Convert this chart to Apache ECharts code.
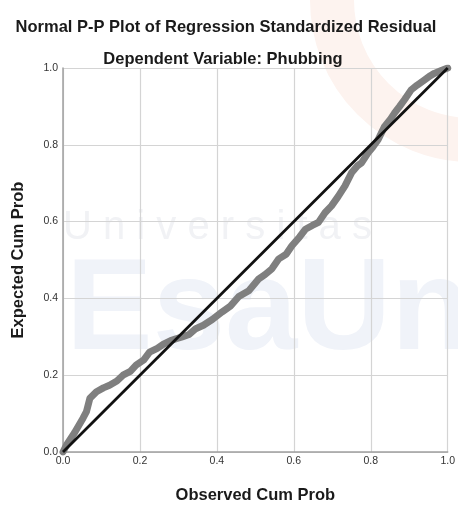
<!DOCTYPE html>
<html>
<head>
<meta charset="utf-8">
<script src="https://cdn.jsdelivr.net/npm/echarts@6/dist/echarts.min.js"></script>
<style>
html,body{margin:0;padding:0;background:#fff;}
#chart{width:458px;height:509px;}
</style>
</head>
<body>
<div id="chart"></div>
<script>
// Observed cumulative probability (x) and expected cumulative probability (y)
var observed = [0, 0.01, 0.03, 0.052, 0.061, 0.07, 0.087, 0.105, 0.121, 0.14, 0.156, 0.175, 0.19, 0.21, 0.225, 0.245, 0.26, 0.28, 0.294, 0.31, 0.328, 0.345, 0.365, 0.388, 0.414, 0.435, 0.457, 0.483, 0.509, 0.525, 0.543, 0.561, 0.58, 0.595, 0.615, 0.63, 0.648, 0.664, 0.681, 0.698, 0.715, 0.733, 0.75, 0.765, 0.776, 0.793, 0.806, 0.819, 0.836, 0.85, 0.862, 0.875, 0.888, 0.905, 0.92, 0.94, 0.955, 0.965, 0.98, 1.0];
var expected = [0, 0.02, 0.05, 0.088, 0.105, 0.14, 0.157, 0.167, 0.174, 0.185, 0.2, 0.21, 0.226, 0.24, 0.26, 0.27, 0.28, 0.29, 0.295, 0.3, 0.306, 0.321, 0.33, 0.345, 0.365, 0.38, 0.405, 0.42, 0.451, 0.462, 0.477, 0.503, 0.515, 0.537, 0.56, 0.58, 0.59, 0.598, 0.623, 0.641, 0.665, 0.693, 0.727, 0.745, 0.753, 0.779, 0.795, 0.813, 0.848, 0.865, 0.883, 0.9, 0.918, 0.943, 0.955, 0.969, 0.98, 0.986, 0.992, 1.0];
var refX = [0, 1];
var refY = [0, 1];

var chart = echarts.init(document.getElementById('chart'));
var font = 'Liberation Sans, Arial, sans-serif';
chart.setOption({
  backgroundColor: '#ffffff',
  animation: false,
  title: [
    {text: 'Normal P-P Plot of Regression Standardized Residual', left: 221, top: 14, textAlign: 'center',
     textStyle: {fontFamily: font, fontSize: 16.5, fontWeight: 'bold', color: '#1a1a1a'}},
    {text: 'Dependent Variable: Phubbing', left: 218, top: 46, textAlign: 'center',
     textStyle: {fontFamily: font, fontSize: 16.5, fontWeight: 'bold', color: '#1a1a1a'}}
  ],
  graphic: [
    {type: 'arc', z: -20, silent: true,
     shape: {cx: 472, cy: 0, r: 140, startAngle: Math.PI / 2, endAngle: Math.PI, clockwise: true},
     style: {stroke: '#fdf3ef', lineWidth: 44, fill: null}},
    {type: 'text', left: 63, top: 208, z: -10, silent: true,
     style: {text: 'U n i v e r s i t a s', fontFamily: font, fontSize: 40, fontWeight: 'lighter', fill: '#f1f2f5'}},
    {type: 'text', left: 66, top: 248, z: -10, silent: true,
     style: {text: 'EsaUn', fontFamily: font, fontSize: 130, fontWeight: 'bold', fill: '#f0f3f9'}}
  ],
  grid: {left: 63, right: 8, top: 68, bottom: 55, containLabel: false},
  xAxis: {
    type: 'value', min: 0, max: 1, interval: 0.2,
    name: 'Observed Cum Prob', nameLocation: 'middle', nameGap: 35,
    nameTextStyle: {fontFamily: font, fontSize: 16.5, fontWeight: 'bold', color: '#1a1a1a'},
    axisLine: {show: true, lineStyle: {color: '#a0a0a0', width: 1.5}},
    axisTick: {show: false},
    axisLabel: {fontFamily: font, fontSize: 10.5, color: '#333', margin: 4,
      formatter: function (v) { return v.toFixed(1); }},
    splitLine: {show: true, lineStyle: {color: '#d4d4d4', width: 1.2}}
  },
  yAxis: {
    type: 'value', min: 0, max: 1, interval: 0.2,
    name: 'Expected Cum Prob', nameLocation: 'middle', nameGap: 36, nameRotate: 90,
    nameTextStyle: {fontFamily: font, fontSize: 16.5, fontWeight: 'bold', color: '#1a1a1a'},
    axisLine: {show: true, lineStyle: {color: '#a0a0a0', width: 1.5}},
    axisTick: {show: false},
    axisLabel: {fontFamily: font, fontSize: 10.5, color: '#333', margin: 5,
      formatter: function (v) { return v.toFixed(1); }},
    splitLine: {show: true, lineStyle: {color: '#d4d4d4', width: 1.2}}
  },
  series: [
    {
      type: 'line', name: 'residuals', symbol: 'none', smooth: false, z: 2,
      data: observed.map(function (x, i) { return [x, expected[i]]; }),
      lineStyle: {color: '#7f7f7f', width: 7, cap: 'round', join: 'round'}
    },
    {
      type: 'line', name: 'reference', symbol: 'none', z: 3,
      data: refX.map(function (x, i) { return [x, refY[i]]; }),
      lineStyle: {color: '#111111', width: 2.8}
    }
  ]
});
</script>
</body>
</html>
